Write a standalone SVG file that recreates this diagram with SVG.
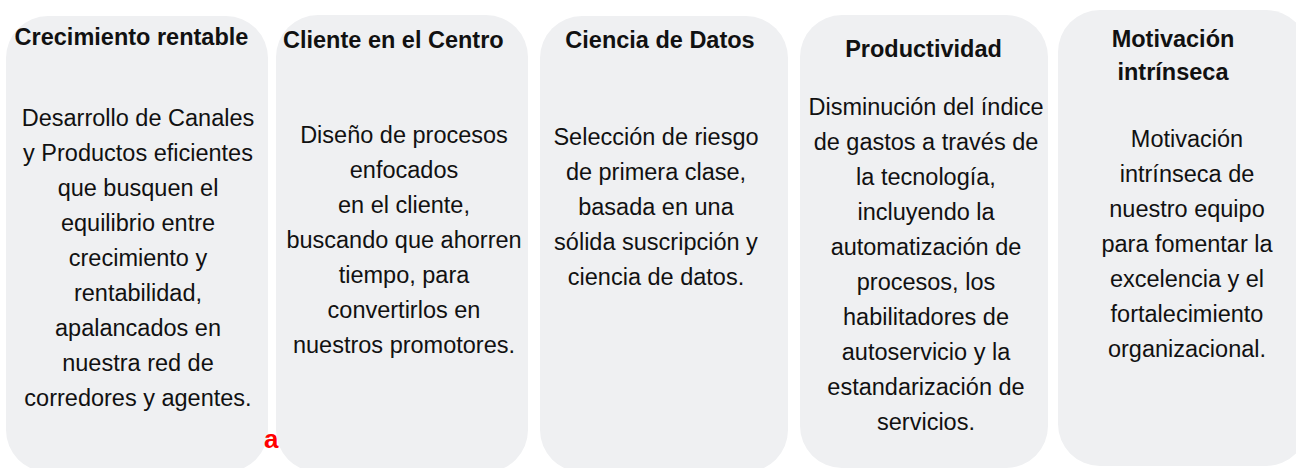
<svg xmlns="http://www.w3.org/2000/svg" width="1296" height="468" viewBox="0 0 1296 468">
<style>
.box{fill:#eff0f2;}
.t{font-family:"Liberation Sans",Arial,sans-serif;font-size:23.5px;font-weight:bold;fill:#111;}
.b{font-family:"Liberation Sans",Arial,sans-serif;font-size:23.5px;fill:#111;text-anchor:middle;}
.c{text-anchor:middle;}
.red{font-family:"Liberation Sans",Arial,sans-serif;font-size:26px;font-weight:bold;fill:#ff0000;}
</style>
<rect width="1296" height="468" fill="#ffffff"/>
<g id="node-crecimiento">
<rect class="box" x="6" y="16" width="262" height="456" rx="42" ry="42"/>
<text class="t c" x="131.5" y="45">Crecimiento rentable</text>
<text class="b" x="138" y="126">Desarrollo de Canales</text>
<text class="b" x="138" y="161">y Productos eficientes</text>
<text class="b" x="138" y="196">que busquen el</text>
<text class="b" x="138" y="231">equilibrio entre</text>
<text class="b" x="138" y="266">crecimiento y</text>
<text class="b" x="138" y="301">rentabilidad,</text>
<text class="b" x="138" y="336">apalancados en</text>
<text class="b" x="138" y="371">nuestra red de</text>
<text class="b" x="138" y="406">corredores y agentes.</text>
</g>
<text class="red" x="264" y="448">a</text>
<g id="node-cliente">
<rect class="box" x="276" y="15" width="252" height="457" rx="42" ry="42"/>
<text class="t" x="283" y="48">Cliente en el Centro</text>
<text class="b" x="404" y="143">Diseño de procesos</text>
<text class="b" x="404" y="178">enfocados</text>
<text class="b" x="404" y="213">en el cliente,</text>
<text class="b" x="404" y="248">buscando que ahorren</text>
<text class="b" x="404" y="283">tiempo, para</text>
<text class="b" x="404" y="318">convertirlos en</text>
<text class="b" x="404" y="353">nuestros promotores.</text>
</g>
<g id="node-ciencia">
<rect class="box" x="540" y="16" width="248" height="456" rx="42" ry="42"/>
<text class="t c" x="660" y="48">Ciencia de Datos</text>
<text class="b" x="656" y="145">Selección de riesgo</text>
<text class="b" x="656" y="180">de primera clase,</text>
<text class="b" x="656" y="215">basada en una</text>
<text class="b" x="656" y="250">sólida suscripción y</text>
<text class="b" x="656" y="285">ciencia de datos.</text>
</g>
<g id="node-productividad">
<rect class="box" x="800" y="15" width="248" height="453" rx="42" ry="42"/>
<text class="t c" x="923.5" y="57">Productividad</text>
<text class="b" x="926" y="115">Disminución del índice</text>
<text class="b" x="926" y="150">de gastos a través de</text>
<text class="b" x="926" y="185">la tecnología,</text>
<text class="b" x="926" y="220">incluyendo la</text>
<text class="b" x="926" y="255">automatización de</text>
<text class="b" x="926" y="290">procesos, los</text>
<text class="b" x="926" y="325">habilitadores de</text>
<text class="b" x="926" y="360">autoservicio y la</text>
<text class="b" x="926" y="395">estandarización de</text>
<text class="b" x="926" y="430">servicios.</text>
</g>
<g id="node-motivacion">
<rect class="box" x="1058" y="10" width="250" height="456" rx="42" ry="42"/>
<text class="t c" x="1173" y="47">Motivación</text>
<text class="t c" x="1173" y="80">intrínseca</text>
<text class="b" x="1187" y="147">Motivación</text>
<text class="b" x="1187" y="182">intrínseca de</text>
<text class="b" x="1187" y="217">nuestro equipo</text>
<text class="b" x="1187" y="252">para fomentar la</text>
<text class="b" x="1187" y="287">excelencia y el</text>
<text class="b" x="1187" y="322">fortalecimiento</text>
<text class="b" x="1187" y="357">organizacional.</text>
</g>
<g id="connectors"></g>
</svg>
